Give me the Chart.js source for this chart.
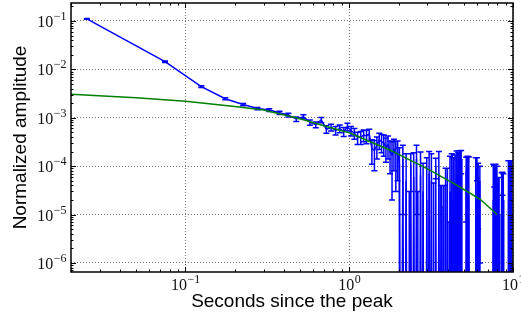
<!DOCTYPE html>
<html>
<head>
<meta charset="utf-8">
<script src="https://cdn.jsdelivr.net/npm/chart.js@4.4.0/dist/chart.umd.min.js"></script>
<style>
  body { margin: 0; background: #fff; }
  #wrap { width: 521px; height: 320px; }
</style>
</head>
<body>
<div id="wrap"><canvas id="chart"></canvas></div>
<script>
// time bins (s) of the measured light curve
const times = [
  0.025, 0.075, 0.125, 0.175, 0.225, 0.275, 0.325, 0.375, 0.425, 0.475,
  0.525, 0.575, 0.625, 0.675, 0.725, 0.775, 0.825, 0.875, 0.925, 0.975,
  1.025, 1.075, 1.125, 1.175, 1.225, 1.275, 1.325, 1.375, 1.425, 1.475,
  1.525, 1.575, 1.625, 1.675, 1.725, 1.775, 1.825, 1.875, 1.925, 1.975,
  2.025, 2.075, 2.125, 2.175, 2.225, 2.275, 2.325, 2.375, 2.425, 2.475,
  2.525, 2.575, 2.625, 2.675, 2.725, 2.775, 2.825, 2.875, 2.925, 2.975,
  3.025, 3.075, 3.125, 3.175, 3.225, 3.275, 3.325, 3.375, 3.425, 3.475,
  3.525, 3.575, 3.625, 3.675, 3.725, 3.775, 3.825, 3.875, 3.925, 3.975,
  4.025, 4.075, 4.125, 4.175, 4.225, 4.275, 4.325, 4.375, 4.425, 4.475,
  4.525, 4.575, 4.625, 4.675, 4.725, 4.775, 4.825, 4.875, 4.925, 4.975,
  5.025, 5.075, 5.125, 5.175, 5.225, 5.275, 5.325, 5.375, 5.425, 5.475,
  5.525, 5.575, 5.625, 5.675, 5.725, 5.775, 5.825, 5.875, 5.925, 5.975,
  6.025, 6.075, 6.125, 6.175, 6.225, 6.275, 6.325, 6.375, 6.425, 6.475,
  6.525, 6.575, 6.625, 6.675, 6.725, 6.775, 6.825, 6.875, 6.925, 6.975,
  7.025, 7.075, 7.125, 7.175, 7.225, 7.275, 7.325, 7.375, 7.425, 7.475,
  7.525, 7.575, 7.625, 7.675, 7.725, 7.775, 7.825, 7.875, 7.925, 7.975,
  8.025, 8.075, 8.125, 8.175, 8.225, 8.275, 8.325, 8.375, 8.425, 8.475,
  8.525, 8.575, 8.625, 8.675, 8.725, 8.775, 8.825, 8.875, 8.925, 8.975,
  9.025, 9.075, 9.125, 9.175, 9.225, 9.275, 9.325, 9.375, 9.425, 9.475,
  9.525, 9.575, 9.625, 9.675, 9.725, 9.775, 9.825, 9.875, 9.925, 9.975
];

// normalized amplitude per bin (negative = below zero, falls off the log axis)
const amplitude = [
  0.11, 0.0144, 0.0044, 0.00247, 0.00188, 0.00155, 0.00144, 0.00127, 0.00114, 0.00094,
  0.00105, 0.0008, 0.00072, 0.0009, 0.00058, 0.00063, 0.00055, 0.0006, 0.00052, 0.00065,
  0.00054, 0.00048, 0.00039, 0.0004, 0.00044, 0.00042, 0.00046, 0.00023, 0.00021, 0.00027,
  0.00035, 0.00032, 0.0003, 0.00025, 0.00028, 0.0002, 0.00017, 0.00022, 0.00018, 0.00019,
  0.00011, -0.0002, 0.00014, -0.00015, 0.00005, -0.0002, -0.0001, 0.000105, -0.0002, 0.00006,
  -0.0002, 0.00014, -0.0001, -0.0002, 0.000065, -0.0002, 0.00003, -0.00015, -0.0002, 0.00002,
  -0.0002, 0.00007, -0.0002, 0.00005, -0.0002, -0.000085, -0.0002, 0.0001, -0.0002, -0.00015,
  0.00007, -0.0002, -0.00009, 0.000015, -0.0002, -0.00009, -0.0002, 0.00004, -0.0002, -0.00004,
  -0.0002, -0.000123, 0.00003, -0.0002, 0.00005, -0.0002, 0.00002, -0.0002, 0.00004, -0.0002,
  0.000075, -0.0002, 0.00006, -0.0002, 0.000077, -0.0002, 0.00014, -0.0002, -0.0002, -0.0002,
  -0.0002, -0.0002, -0.0002, 0.00008, -0.0002, 0.00003, -0.0002, 0.000025, -0.0002, -0.0002,
  -0.0002, -0.00025, -0.0002, -0.0003, -0.0002, -0.0002, -0.00025, -0.0002, 0.00002, -0.0002,
  0.0001, -0.0002, 0.00006, -0.0002, -0.0002, 0.00005, -0.0002, -0.0002, -0.0002, -0.0002,
  -0.0002, -0.00025, -0.0002, -0.0003, -0.0002, -0.0002, -0.00025, -0.0002, -0.0002, -0.0002,
  -0.0002, -0.0002, -0.0003, -0.0002, -0.00025, -0.0002, -0.0002, -0.0003, -0.0002, -0.0002,
  -0.0002, 0.00002, -0.0002, 0.00007, -0.0002, -0.0002, 0.00003, -0.0002, -0.0002, 0.00001,
  -0.0002, 0.00002, -0.0002, -0.0002, 0.00001, -0.0002, -0.0002, -0.0002, -0.0002, -0.0002,
  0.00003, -0.0002, 0.00005, -0.0002, 0.00002, -0.0002, -0.0002, -0.0002, -0.0002, -0.0002,
  -0.0002, -0.0002, -0.0002, -0.0002, -0.0002, -0.0002, -0.0002, 0.00002, -0.0002, -0.0002,
  0.00003, -0.0002, -0.0002, 0.00004, -0.0002, -0.0002, 0.00002, -0.0002, -0.0002, -0.0002
];

// 1-sigma error per bin
const amplitudeErr = [
  0.002, 0.0005, 0.0002, 0.00012, 0.0001, 0.00008, 0.00009, 0.0001, 0.0001, 0.0001,
  0.0001, 0.0001, 0.0001, 0.00011, 0.0001, 0.0001, 0.00011, 0.00011, 0.00011, 0.00012,
  0.00012, 0.00012, 0.00011, 0.00012, 0.00012, 0.00013, 0.00012, 0.00012, 0.00013, 0.00013,
  0.00013, 0.00013, 0.00014, 0.00013, 0.00014, 0.00013, 0.00015, 0.00014, 0.00015, 0.00014,
  0.00013, 0.00013, 0.00013, 0.00013, 0.00013, 0.00013, 0.00013, 0.000075, 0.00013, 0.00013,
  0.00013, 0.00013, 0.00013, 0.00013, 0.00013, 0.00013, 0.000085, 0.00013, 0.00013, 0.00013,
  0.00013, 0.00013, 0.00013, 0.00013, 0.00013, 0.00013, 0.00013, 0.000045, 0.00013, 0.00013,
  0.00013, 0.00013, 0.00013, 0.000025, 0.00013, 0.00013, 0.00013, 0.00005, 0.00013, 0.00013,
  0.00013, 0.00013, 0.00013, 0.00013, 0.00013, 0.00013, 0.00013, 0.00013, 0.00013, 0.00013,
  0.00013, 0.00013, 0.00013, 0.00013, 0.00013, 0.00013, 0.00007, 0.00013, 0.00013, 0.00013,
  0.00013, 0.00013, 0.00013, 0.000073, 0.00013, 0.00013, 0.00013, 0.00013, 0.00013, 0.00013,
  0.00013, 0.00013, 0.00013, 0.00013, 0.00013, 0.00013, 0.00013, 0.00013, 0.00013, 0.00013,
  0.00005, 0.00013, 0.000055, 0.00013, 0.00013, 0.000049, 0.00013, 0.00013, 0.00013, 0.00013,
  0.00013, 0.00013, 0.00013, 0.00013, 0.00013, 0.00013, 0.00013, 0.00013, 0.00013, 0.00013,
  0.00013, 0.00013, 0.00013, 0.00013, 0.00013, 0.00013, 0.00013, 0.00013, 0.00013, 0.00013,
  0.00013, 0.00009, 0.00013, 0.000033, 0.00013, 0.00013, 0.00008, 0.00013, 0.00013, 0.00009,
  0.00013, 0.000038, 0.00013, 0.00013, 0.000048, 0.00013, 0.00013, 0.00013, 0.00013, 0.00013,
  0.000043, 0.00013, 0.000025, 0.00013, 0.00005, 0.00013, 0.00013, 0.00013, 0.00013, 0.00013,
  0.00013, 0.00013, 0.00013, 0.00013, 0.00013, 0.00013, 0.00013, 0.00011, 0.00013, 0.00013,
  0.0001, 0.00013, 0.00013, 0.00009, 0.00013, 0.00013, 0.00011, 0.00013, 0.00013, 0.00013
];

// model curve (green)
const modelTimes = [0.02, 0.05, 0.1, 0.2, 0.3, 0.5, 0.8, 1.0, 1.4, 1.8, 2.4, 2.85, 3.5, 4.5, 5.3, 6.3, 8.0];
const modelAmplitude = [3.05e-3, 2.6e-3, 2.2e-3, 1.7e-3, 1.45e-3, 9.5e-4, 6.0e-4, 4.9e-4, 3.0e-4, 2.1e-4,
  1.29e-4, 9.7e-5, 6.6e-5, 4.1e-5, 2.95e-5, 2.07e-5, 1.0e-5];

const xTickPowers = [-1, 0, 1];
const yTickPowers = [-6, -5, -4, -3, -2, -1];

const X_MIN = 0.02, X_MAX = 10;
const Y_MIN = 6.5e-7, Y_MAX = 0.235;
const FLOOR = 1e-12; // nonpositive values are clipped off the bottom, like matplotlib

const isDecade = v => Math.abs(Math.log10(v) - Math.round(Math.log10(v))) < 1e-6;

// vertical error bars with caps, drawn right after the data line (under the model)
const errorBars = {
  id: 'errorBars',
  afterDatasetDraw(chart, args) {
    if (args.index !== 1) return;
    const {ctx, chartArea: a, scales: {x, y}} = chart;
    ctx.save();
    ctx.beginPath();
    ctx.rect(a.left, a.top, a.right - a.left, a.bottom - a.top);
    ctx.clip();
    ctx.strokeStyle = '#0000ff';
    ctx.lineWidth = 1.5;
    ctx.beginPath();
    times.forEach((t, i) => {
      const hi = amplitude[i] + amplitudeErr[i];
      const lo = amplitude[i] - amplitudeErr[i];
      if (hi <= 0) return;
      const px = x.getPixelForValue(t);
      const yHi = y.getPixelForValue(hi);
      const yLo = lo > 0 ? y.getPixelForValue(lo) : a.bottom + 5;
      ctx.moveTo(px, yHi); ctx.lineTo(px, yLo);
      ctx.moveTo(px - 3, yHi); ctx.lineTo(px + 3, yHi);
      if (lo > 0) { ctx.moveTo(px - 3, yLo); ctx.lineTo(px + 3, yLo); }
    });
    ctx.stroke();
    ctx.restore();
  }
};

// box frame, inward ticks on all sides and 10^n labels
const frame = {
  id: 'frame',
  afterDraw(chart) {
    const {ctx, chartArea: a, scales: {x, y}} = chart;
    ctx.save();
    ctx.strokeStyle = '#000';
    ctx.lineWidth = 1;
    ctx.beginPath();
    for (let k = -2; k <= 1; k++) {
      for (let m = 1; m <= 9; m++) {
        const v = m * Math.pow(10, k);
        if (v < X_MIN || v > X_MAX) continue;
        const px = Math.round(x.getPixelForValue(v)) + 0.5;
        const len = m === 1 ? 5 : 2.5;
        ctx.moveTo(px, a.bottom); ctx.lineTo(px, a.bottom - len);
        ctx.moveTo(px, a.top); ctx.lineTo(px, a.top + len);
      }
    }
    for (let k = -7; k <= -1; k++) {
      for (let m = 1; m <= 9; m++) {
        const v = m * Math.pow(10, k);
        if (v < Y_MIN || v > Y_MAX) continue;
        const py = Math.round(y.getPixelForValue(v)) + 0.5;
        const len = m === 1 ? 5 : 2.5;
        ctx.moveTo(a.left, py); ctx.lineTo(a.left + len, py);
        ctx.moveTo(a.right, py); ctx.lineTo(a.right - len, py);
      }
    }
    ctx.stroke();
    ctx.lineWidth = 1.5;
    ctx.strokeRect(a.left, a.top, a.right - a.left, a.bottom - a.top);

    const big = '16px "Liberation Serif"', small = '12px "Liberation Serif"';
    ctx.fillStyle = '#111';
    ctx.textBaseline = 'alphabetic';
    ctx.textAlign = 'left';
    const expText = p => (p < 0 ? '\u2212' + (-p) : String(p));
    const widths = p => {
      ctx.font = big; const w1 = ctx.measureText('10').width;
      ctx.font = small; const w2 = ctx.measureText(expText(p)).width;
      return [w1, w2];
    };
    const drawPow = (p, left, base) => {
      const [w1] = widths(p);
      ctx.font = big; ctx.fillText('10', left, base);
      ctx.font = small; ctx.fillText(expText(p), left + w1 + 0.5, base - 7);
    };
    yTickPowers.forEach(p => {
      const py = y.getPixelForValue(Math.pow(10, p));
      const [w1, w2] = widths(p);
      drawPow(p, a.left - 5 - w1 - w2, py + 6);
    });
    xTickPowers.forEach(p => {
      const px = x.getPixelForValue(Math.pow(10, p));
      const [w1, w2] = widths(p);
      drawPow(p, px - (w1 + w2) / 2, a.bottom + 18);
    });
    ctx.restore();
  }
};

Chart.defaults.font.family = '"Liberation Sans", Arial, sans-serif';

const gridColor = c => (isDecade(c.tick.value) ? 'rgba(0,0,0,0.55)' : 'rgba(0,0,0,0)');

new Chart(document.getElementById('chart'), {
  type: 'line',
  data: {
    datasets: [
      {
        label: 'model',
        data: modelTimes.map((t, i) => ({x: t, y: modelAmplitude[i]})),
        borderColor: '#008000',
        borderWidth: 1.5,
        pointRadius: 0,
        tension: 0
      },
      {
        label: 'data',
        data: times.map((t, i) => ({x: t, y: amplitude[i] > 0 ? amplitude[i] : FLOOR})),
        borderColor: '#0000ff',
        borderWidth: 1.5,
        pointRadius: 0,
        tension: 0
      }
    ]
  },
  options: {
    responsive: true,
    maintainAspectRatio: false,
    animation: false,
    layout: { padding: { left: 2, right: 8, top: 3, bottom: 3.2 } },
    plugins: { legend: { display: false }, tooltip: { enabled: false } },
    scales: {
      x: {
        type: 'logarithmic',
        min: X_MIN,
        max: X_MAX,
        ticks: { display: false },
        grid: { drawTicks: false, color: gridColor, lineWidth: 1 },
        border: { display: false, dash: [1, 2] },
        title: {
          display: true,
          text: 'Seconds since the peak',
          color: '#000',
          font: { size: 19 },
          padding: { top: 18, bottom: 4 }
        }
      },
      y: {
        type: 'logarithmic',
        min: Y_MIN,
        max: Y_MAX,
        ticks: { display: false },
        grid: { drawTicks: false, color: gridColor, lineWidth: 1 },
        border: { display: false, dash: [1, 2] },
        title: {
          display: true,
          text: 'Normalized amplitude',
          color: '#000',
          font: { size: 19 },
          padding: { top: 7, bottom: 39.2 }
        }
      }
    }
  },
  plugins: [errorBars, frame]
});
</script>
</body>
</html>
